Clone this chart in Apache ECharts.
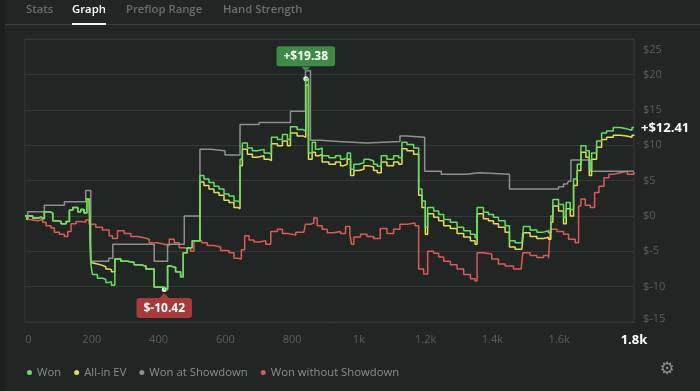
<!DOCTYPE html>
<html>
<head>
<meta charset="utf-8">
<script src="https://cdn.jsdelivr.net/npm/echarts@6/dist/echarts.min.js"></script>
<style>
html,body{margin:0;padding:0;background:#212524;}
#c{width:700px;height:391px;}
</style>
</head>
<body>
<div id="c"></div>
<script>
const tabs = ['Stats', 'Graph', 'Preflop Range', 'Hand Strength'];
const legendNames = ['Won', 'All-in EV', 'Won at Showdown', 'Won without Showdown'];
const totalHands = 1824;

const wonHands = [0,6,10,23,38,48,58,73,83,98,108,123,133,143,158,167,177,185,192,197,202,217,232,242,252,259,269,287,307,327,347,362,387,417,427,437,451,466,474,486,501,524,536,551,566,581,596,611,626,638,644,651,666,681,696,716,731,738,756,771,786,795,815,833,841,849,860,870,880,890,910,930,945,955,965,975,985,1000,1015,1029,1044,1055,1067,1084,1104,1119,1129,1144,1164,1179,1189,1199,1206,1224,1239,1254,1274,1294,1314,1334,1348,1354,1373,1388,1403,1418,1438,1451,1468,1488,1493,1513,1533,1553,1568,1575,1581,1598,1613,1621,1633,1643,1654,1665,1680,1690,1697,1712,1727,1742,1762,1782,1802,1818,1824];
const wonValues = [0,-0.5,0.0,-0.3,-0.2,-0.4,0.6,0.4,-0.7,-0.8,-1.1,-0.8,0.8,1.2,0.6,0.9,0.4,2.4,2.6,-6.8,-8.3,-8.8,-9.0,-9.4,-9.3,-9.8,-6.1,-6.4,-6.6,-6.9,-7.1,-7.5,-10.1,-10.42,-7.1,-7.3,-7.9,-8.6,-5.2,-4.5,-3.5,5.7,5.2,4.7,4.2,3.8,3.1,2.8,2.1,1.9,8.0,10.3,9.6,9.2,9.4,8.9,8.7,11.1,10.8,11.5,10.8,12.6,12.2,12.0,19.38,8.9,10.4,9.4,9.6,8.5,8.2,8.5,8.0,8.2,8.9,6.6,7.3,7.5,8.0,7.8,7.3,7.0,8.5,8.0,8.5,8.2,10.4,10.1,9.6,3.8,2.1,-1.6,1.2,0.7,0.2,-0.5,-0.9,-1.6,-2.1,-2.6,-3.1,1.2,0.5,0.2,-0.2,-0.7,-1.4,-3.5,-3.8,-4.0,-1.5,-2.0,-2.3,-2.1,-2.4,0.0,2.3,1.6,-0.2,1.9,0.9,5.2,7.3,9.9,9.2,6.6,8.9,10.6,11.7,12.0,12.5,12.3,12.1,12.5,12.41];
const evValues = [0,-0.5,0.0,-0.3,-0.2,-0.4,0.6,0.4,-0.7,-0.8,-1.1,-0.8,0.8,1.2,0.6,0.9,0.4,2.4,2.6,-6.6,-6.8,-7.0,-7.2,-7.5,-7.6,-7.9,-6.1,-6.4,-6.6,-6.9,-7.1,-7.5,-10.1,-10.42,-7.1,-7.3,-7.9,-8.6,-5.2,-4.5,-3.5,4.8,4.3,3.8,3.3,2.9,2.2,1.9,1.2,1.0,7.1,9.4,8.7,8.3,8.5,8.0,7.8,10.2,9.9,10.6,9.9,11.7,11.3,11.1,18.5,8.0,9.0,8.5,8.7,7.6,7.3,7.6,7.1,7.3,8.0,5.7,6.4,6.6,7.1,6.9,6.4,6.1,7.6,7.1,7.6,7.3,9.5,9.2,8.7,2.9,1.2,-2.6,0.3,-0.2,-0.7,-1.4,-1.8,-2.5,-3.0,-3.5,-4.0,0.3,-0.4,-0.7,-1.1,-1.6,-2.3,-4.4,-4.7,-4.9,-2.4,-2.9,-3.2,-3.0,-3.3,-0.9,1.4,0.7,-1.1,1.0,0.0,4.3,6.4,9.0,8.3,5.7,8.0,9.7,10.8,11.1,11.4,11.3,11.1,11.4,11.3];

const sdHands = [0,8,58,118,182,197,251,263,387,427,477,524,554,599,644,701,795,840,855,885,940,1024,1123,1143,1197,1247,1321,1361,1451,1598,1613,1623,1628,1635,1693,1824];
const sdValues = [0,0.6,1.5,2.0,3.6,-6.4,-6.0,-4.0,-6.4,-4.0,0.0,9.4,9.2,8.6,12.9,13.2,14.8,20.5,10.7,10.5,10.3,10.5,11.3,11.1,6.3,5.9,6.1,5.9,3.8,4.1,4.5,4.7,4.9,7.9,6.3,6.3];

const nsdHands = [0,6,16,38,53,63,78,88,103,118,128,138,153,167,182,192,212,232,252,262,277,297,317,337,357,372,397,417,432,447,462,477,496,506,529,546,566,586,611,626,638,648,658,671,686,701,721,736,756,771,786,811,835,840,855,865,875,890,905,925,945,960,973,978,985,1005,1024,1044,1064,1084,1104,1123,1143,1168,1179,1194,1206,1224,1239,1254,1274,1294,1314,1334,1348,1354,1373,1398,1418,1438,1463,1486,1491,1513,1533,1553,1568,1573,1593,1613,1628,1648,1658,1665,1678,1693,1706,1719,1734,1749,1764,1784,1804,1824];
const nsdValues = [0,-0.5,-0.7,-0.5,-0.9,-1.4,-1.7,-2.3,-2.6,-2.9,-2.2,-1.1,-0.8,-0.9,-0.6,-1.2,-1.6,-2.0,-2.8,-3.2,-2.1,-2.5,-2.9,-3.1,-3.3,-3.8,-4.0,-4.2,-3.3,-3.8,-4.5,-4.7,-5.0,-3.5,-3.8,-4.2,-4.4,-4.9,-5.2,-6.0,-6.1,-4.8,-2.8,-3.4,-3.7,-3.5,-4.0,-2.2,-1.9,-2.5,-2.7,-2.3,-2.5,-1.2,-1.0,-0.3,-1.4,-1.9,-2.4,-2.2,-2.5,-1.5,-2.6,-4.0,-3.0,-2.6,-2.9,-3.2,-1.8,-2.5,-1.9,-1.2,-1.0,-1.4,-7.5,-8.2,-5.0,-5.3,-5.8,-6.4,-6.9,-7.5,-8.3,-8.9,-9.2,-5.2,-5.4,-6.1,-6.8,-7.1,-7.5,-7.3,-5.2,-5.6,-5.9,-5.6,-6.0,-1.9,-2.2,-2.6,-3.3,-3.8,1.4,2.4,1.5,1.2,3.3,4.2,5.4,5.9,6.1,6.3,5.9,6.2];

const colors = {won:'#63e05f', ev:'#e3dc55', sd:'#8e908f', nsd:'#df5a57'};

function pairs(xs, ys){ return xs.map((x,i)=>[x, ys[i]]); }

const chart = echarts.init(document.getElementById('c'), null, {renderer:'canvas'});
const FONT = 'Open Sans';
const lastWon = wonValues[wonValues.length-1];

function lineSeries(name, data, color, z, extra){
  return Object.assign({
    name, type:'line', data, step:'end', showSymbol:false, symbol:'none',
    z, lineStyle:{color, width:1.5}, itemStyle:{color},
    emphasis:{disabled:true}, silent:true, clip:false
  }, extra||{});
}

const tabX = [26, 72, 126, 223];
const graphics = [
  {type:'rect', shape:{x:0,y:0,width:5,height:391}, style:{fill:'#1b1e1d'}},
  {type:'rect', shape:{x:5,y:24,width:695,height:1}, style:{fill:'#393d3b'}},
  {type:'rect', shape:{x:72,y:23,width:34,height:2}, style:{fill:'#f2f2f2'}},
  {type:'text', x:667, y:370, style:{text:'\u2699', fill:'#8b8f8d', font:'17px "DejaVu Sans"', align:'center', verticalAlign:'middle'}}
];
tabs.forEach((t,i)=>{
  graphics.push({type:'text', x:tabX[i], y:10, style:{text:t, fill: i===1?'#ffffff':'#6b6f6d', font:'600 11.3px "'+FONT+'"', verticalAlign:'middle'}});
});

chart.setOption({
  animation:false,
  backgroundColor:'#212524',
  textStyle:{fontFamily:FONT},
  graphic:graphics,
  grid:{left:25, right:66, top:39, bottom:69, show:true, borderColor:'#343836', borderWidth:1, backgroundColor:'transparent', outerBoundsMode:'none', containLabel:false},
  legend:{
    data:legendNames, left:22, top:362, icon:'circle', itemWidth:5, itemHeight:5, itemGap:13,
    textStyle:{color:'#8b8f8d', fontSize:11.3, fontFamily:FONT}, selectedMode:false
  },
  xAxis:{
    type:'value', min:0, max:totalHands, interval:200,
    axisLine:{show:false}, axisTick:{show:false}, splitLine:{show:false},
    axisLabel:{
      color:'#5b5f5d', fontSize:11, margin:12, showMaxLabel:true, showMinLabel:true, hideOverlap:false,
      formatter:function(v){
        if (v === totalHands) return '{b|1.8k}';
        if (v === 1800) return '';
        if (v === 0) return '{z|0}';
        return v >= 1000 ? (v/1000) + 'k' : String(v);
      },
      rich:{
        b:{color:'#ffffff', fontSize:13, fontWeight:'bold', fontFamily:FONT},
        z:{color:'#5b5f5d', fontSize:11, padding:[0,0,0,7], fontFamily:FONT}
      }
    }
  },
  yAxis:{
    type:'value', position:'right', min:-15, max:25, interval:5,
    axisLine:{show:false}, axisTick:{show:false},
    splitLine:{lineStyle:{color:'#343836', width:1}},
    axisLabel:{
      color:'#5b5f5d', fontSize:11, margin:9,
      formatter:function(v){
        if (v === 25) return '{t|$25}';
        if (v === -15) return '{m|$-15}';
        return '$' + v;
      },
      rich:{
        t:{color:'#5b5f5d', fontSize:11, padding:[22,0,0,0], fontFamily:FONT},
        m:{color:'#5b5f5d', fontSize:11, padding:[0,0,6,0], fontFamily:FONT}
      }
    }
  },
  series:[
    lineSeries('Won', pairs(wonHands, wonValues), colors.won, 5, {
      markPoint:{
        silent:true,
        data:[
          {type:'max', symbol:'triangle', symbolSize:[9,5], symbolRotate:180, symbolOffset:[0,-9.5], itemStyle:{color:'#3d8b45'}, label:{show:false}},
          {type:'max', symbol:'circle', symbolSize:5, itemStyle:{color:'#ffffff'},
            label:{show:true, position:'top', distance:10, formatter:p=>'+$'+Number(p.value).toFixed(2),
              backgroundColor:'#3d8b45', color:'#ffffff', fontWeight:'bold', fontSize:12, padding:[4,7,4,7], borderRadius:3, fontFamily:FONT}},
          {type:'min', symbol:'triangle', symbolSize:[9,5], symbolOffset:[0,6], itemStyle:{color:'#a93a3c'}, label:{show:false}},
          {type:'min', symbol:'circle', symbolSize:5, itemStyle:{color:'#ffffff'},
            label:{show:true, position:'bottom', distance:6, formatter:p=>'$'+Number(p.value).toFixed(2),
              backgroundColor:'#a93a3c', color:'#ffffff', fontWeight:'bold', fontSize:12, padding:[4,7,4,7], borderRadius:3, fontFamily:FONT}},
          {coord:[totalHands, lastWon], value:lastWon, symbol:'circle', symbolSize:0,
            label:{show:true, position:'right', distance:7, formatter:p=>'+$'+Number(p.value).toFixed(2),
              color:'#ffffff', fontWeight:'bold', fontSize:13, fontFamily:FONT}}
        ]
      }
    }),
    lineSeries('All-in EV', pairs(wonHands, evValues), colors.ev, 4),
    lineSeries('Won at Showdown', pairs(sdHands, sdValues), colors.sd, 3),
    lineSeries('Won without Showdown', pairs(nsdHands, nsdValues), colors.nsd, 2)
  ]
});
</script>
</body>
</html>
